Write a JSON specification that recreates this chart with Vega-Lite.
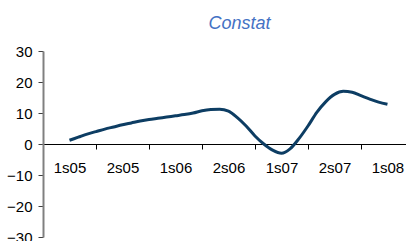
{
  "$schema": "https://vega.github.io/schema/vega-lite/v6.json",
  "width": 363,
  "height": 186,
  "autosize": {"type": "none"},
  "padding": {"left": 43, "top": 51, "right": 0, "bottom": 4},
  "background": "white",
  "config": {
    "view": {"stroke": null},
    "font": "Liberation Sans",
    "axis": {"grid": false, "labelFont": "Liberation Sans", "labelFontSize": 15, "labelColor": "#000000"}
  },
  "title": {
    "text": "Constat",
    "font": "Liberation Sans",
    "fontSize": 18,
    "fontStyle": "italic",
    "fontWeight": "normal",
    "color": "#4472C4",
    "anchor": "middle",
    "dx": 15,
    "baseline": "alphabetic",
    "offset": -3
  },
  "data": {
    "values": [
      {"m": 0, "v": 1.2}, {"m": 1, "v": 2.2}, {"m": 2, "v": 3.2}, {"m": 3, "v": 4.0},
      {"m": 4, "v": 4.8}, {"m": 5, "v": 5.5}, {"m": 6, "v": 6.2}, {"m": 7, "v": 6.8},
      {"m": 8, "v": 7.4}, {"m": 9, "v": 7.9}, {"m": 10, "v": 8.3}, {"m": 11, "v": 8.7},
      {"m": 12, "v": 9.1}, {"m": 13, "v": 9.5}, {"m": 14, "v": 10.0}, {"m": 15, "v": 10.7},
      {"m": 16, "v": 11.1}, {"m": 17, "v": 11.2}, {"m": 18, "v": 10.6}, {"m": 19, "v": 8.5},
      {"m": 20, "v": 5.8}, {"m": 21, "v": 2.6}, {"m": 22, "v": 0.0}, {"m": 23, "v": -2.0},
      {"m": 24, "v": -3.0}, {"m": 25, "v": -1.5}, {"m": 26, "v": 1.8}, {"m": 27, "v": 5.8},
      {"m": 28, "v": 10.2}, {"m": 29, "v": 13.6}, {"m": 30, "v": 16.0}, {"m": 31, "v": 17.0},
      {"m": 32, "v": 16.7}, {"m": 33, "v": 15.6}, {"m": 34, "v": 14.5}, {"m": 35, "v": 13.5},
      {"m": 36, "v": 12.8}
    ]
  },
  "mark": {"type": "line", "interpolate": "monotone", "color": "#0d3d63", "strokeWidth": 3, "clip": false},
  "encoding": {
    "x": {
      "field": "m",
      "type": "quantitative",
      "scale": {"domain": [-3, 38.1], "nice": false, "zero": false},
      "axis": {
        "title": null,
        "offset": -93,
        "values": [-3, 0, 3, 6, 9, 12, 15, 18, 21, 24, 27, 30, 33, 36],
        "labelExpr": "datum.value % 6 === 0 ? ['1s05','2s05','1s06','2s06','1s07','2s07','1s08'][datum.value / 6] : ''",
        "domainColor": "#000000",
        "domainWidth": 1,
        "tickColor": "#000000",
        "tickSize": 5,
        "tickOpacity": {"condition": {"test": "datum.value % 6 === 0", "value": 0}, "value": 1},
        "labelPadding": 11,
        "labelFlush": false,
        "labelOverlap": false,
        "labelBound": false
      }
    },
    "y": {
      "field": "v",
      "type": "quantitative",
      "scale": {"domain": [-30, 30], "nice": false},
      "axis": {
        "title": null,
        "values": [-30, -20, -10, 0, 10, 20, 30],
        "domainColor": "#808080",
        "domainWidth": 2,
        "tickColor": "#404040",
        "tickSize": 5,
        "labelPadding": 6,
        "labelFlush": false,
        "labelOverlap": false
      }
    }
  }
}
